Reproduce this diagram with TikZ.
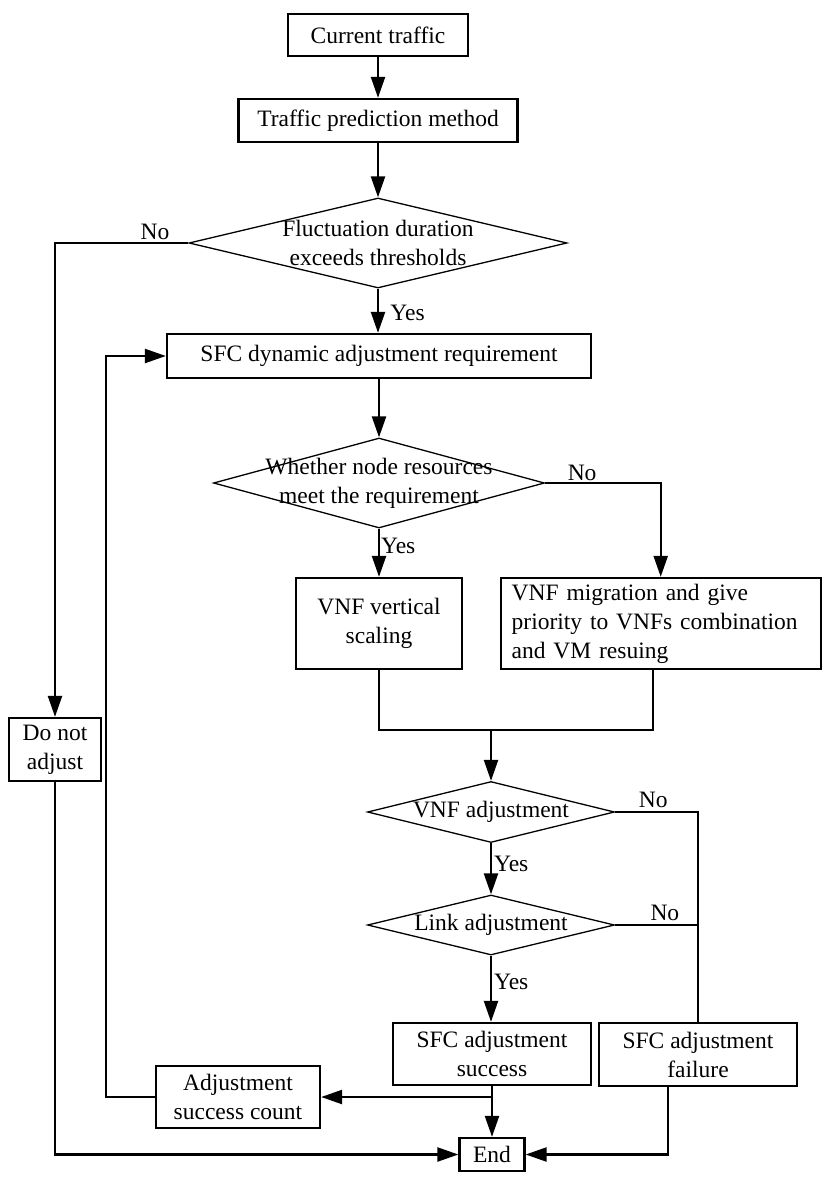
\documentclass[tikz,border=0pt]{standalone}
\usepackage{fontspec}
\setmainfont{Liberation Serif}
\usepackage{tikz}
\usetikzlibrary{shapes.geometric, arrows.meta, positioning}

\begin{document}
\begin{tikzpicture}[x=1pt, y=-1pt,
    every node/.style={font=\fontsize{23.5}{29}\selectfont},
    box/.style={draw, rectangle, line width=2.3pt, align=center, inner sep=2pt},
    decision/.style={draw, diamond, line width=1.3pt, inner sep=0pt},
    arrow/.style={->, >={Triangle[length=21pt, width=14pt]}, line width=2.3pt},
    line/.style={line width=2.3pt},
    thinline/.style={line width=1.6pt}
]
    \fill[white] (0,0) rectangle (836,1180);

    \node (current) [box, minimum width=180pt, minimum height=42pt] at (378,35) {Current traffic};
    \node (predict) [box, minimum width=279pt, minimum height=43pt] at (378,120.5) {Traffic prediction method};
    \node (fluct) [decision, minimum width=378pt, minimum height=90pt,
        label={[align=center]center:Fluctuation duration\\exceeds thresholds}] at (378,243) {};
    \node (sfcreq) [box, minimum width=424pt, minimum height=44pt] at (379,356) {SFC dynamic adjustment requirement};
    \node (resource) [decision, minimum width=331pt, minimum height=90pt,
        label={[align=center]center:Whether node resources\\meet the requirement}] at (379,483) {};
    \node (vertical) [box, minimum width=166pt, minimum height=91pt] at (379,623.5) {VNF vertical\\scaling};
    \node (migrate) [box, text width=298pt, align=left, inner xsep=11pt, minimum height=91pt] at (660.7,623.5) {VNF migration and give\\priority to VNFs combination\\and VM resuing};
    \node (noadjust) [box, minimum width=92pt, minimum height=63pt] at (55,749.5) {Do not\\adjust};
    \node (vnfadj) [decision, minimum width=247pt, minimum height=61pt,
        label={center:VNF adjustment}] at (491,812) {};
    \node (linkadj) [decision, minimum width=247pt, minimum height=60pt,
        label={center:Link adjustment}] at (491,925) {};
    \node (success) [box, minimum width=198pt, minimum height=62pt] at (492,1054) {SFC adjustment\\success};
    \node (failure) [box, minimum width=198pt, minimum height=63pt] at (698,1054.5) {SFC adjustment\\failure};
    \node (count) [box, minimum width=164pt, minimum height=62pt] at (238,1097) {Adjustment\\success count};
    \node (end) [box, minimum width=65pt, minimum height=33pt] at (492,1154.5) {End};

    \coordinate (merge) at (491,730);

    \draw [arrow] (current) -- (predict);
    \draw [arrow] (predict) -- (fluct);
    \draw [arrow] (fluct) -- node[right, pos=0.55, xshift=8pt] {Yes} (fluct |- sfcreq.north);
    \draw [arrow] (fluct.west) -| node[pos=0.125, above, inner sep=2pt] {No} (noadjust.north);
    \draw [arrow] (sfcreq) -- (resource);
    \draw [arrow] (resource) -- node[right, pos=0.35, inner sep=1pt] {Yes} (vertical);
    \draw [arrow] (resource.east) -| node[pos=0.16, above, inner sep=1pt] {No} (migrate.north);
    \draw [line] (vertical.south) |- (merge) -| ([xshift=-8pt]migrate.south);
    \draw [arrow] (merge) -- (vnfadj.north);
    \draw [arrow] (vnfadj) -- node[right, pos=0.4, inner sep=2pt] {Yes} (linkadj);
    \draw [thinline] (vnfadj.east) -| node[pos=0.23, above] {No} (failure.north);
    \draw [thinline] (linkadj.east) -- node[pos=0.6, above] {No} (linkadj.east -| failure.north);
    \draw [arrow] (linkadj) -- node[right, pos=0.4, inner sep=2pt] {Yes} (linkadj |- success.north);
    \draw [arrow] (success) -- (end);
    \draw [arrow] (success.south |- count.east) -- (count.east);
    \draw [arrow] ([xshift=-30pt]failure.south) |- (end.east);
    \draw [arrow] (noadjust.south) |- (end.west);
    \draw [arrow] (count.west) -- ++(-49pt,0) |- (sfcreq.west);
\end{tikzpicture}
\end{document}
